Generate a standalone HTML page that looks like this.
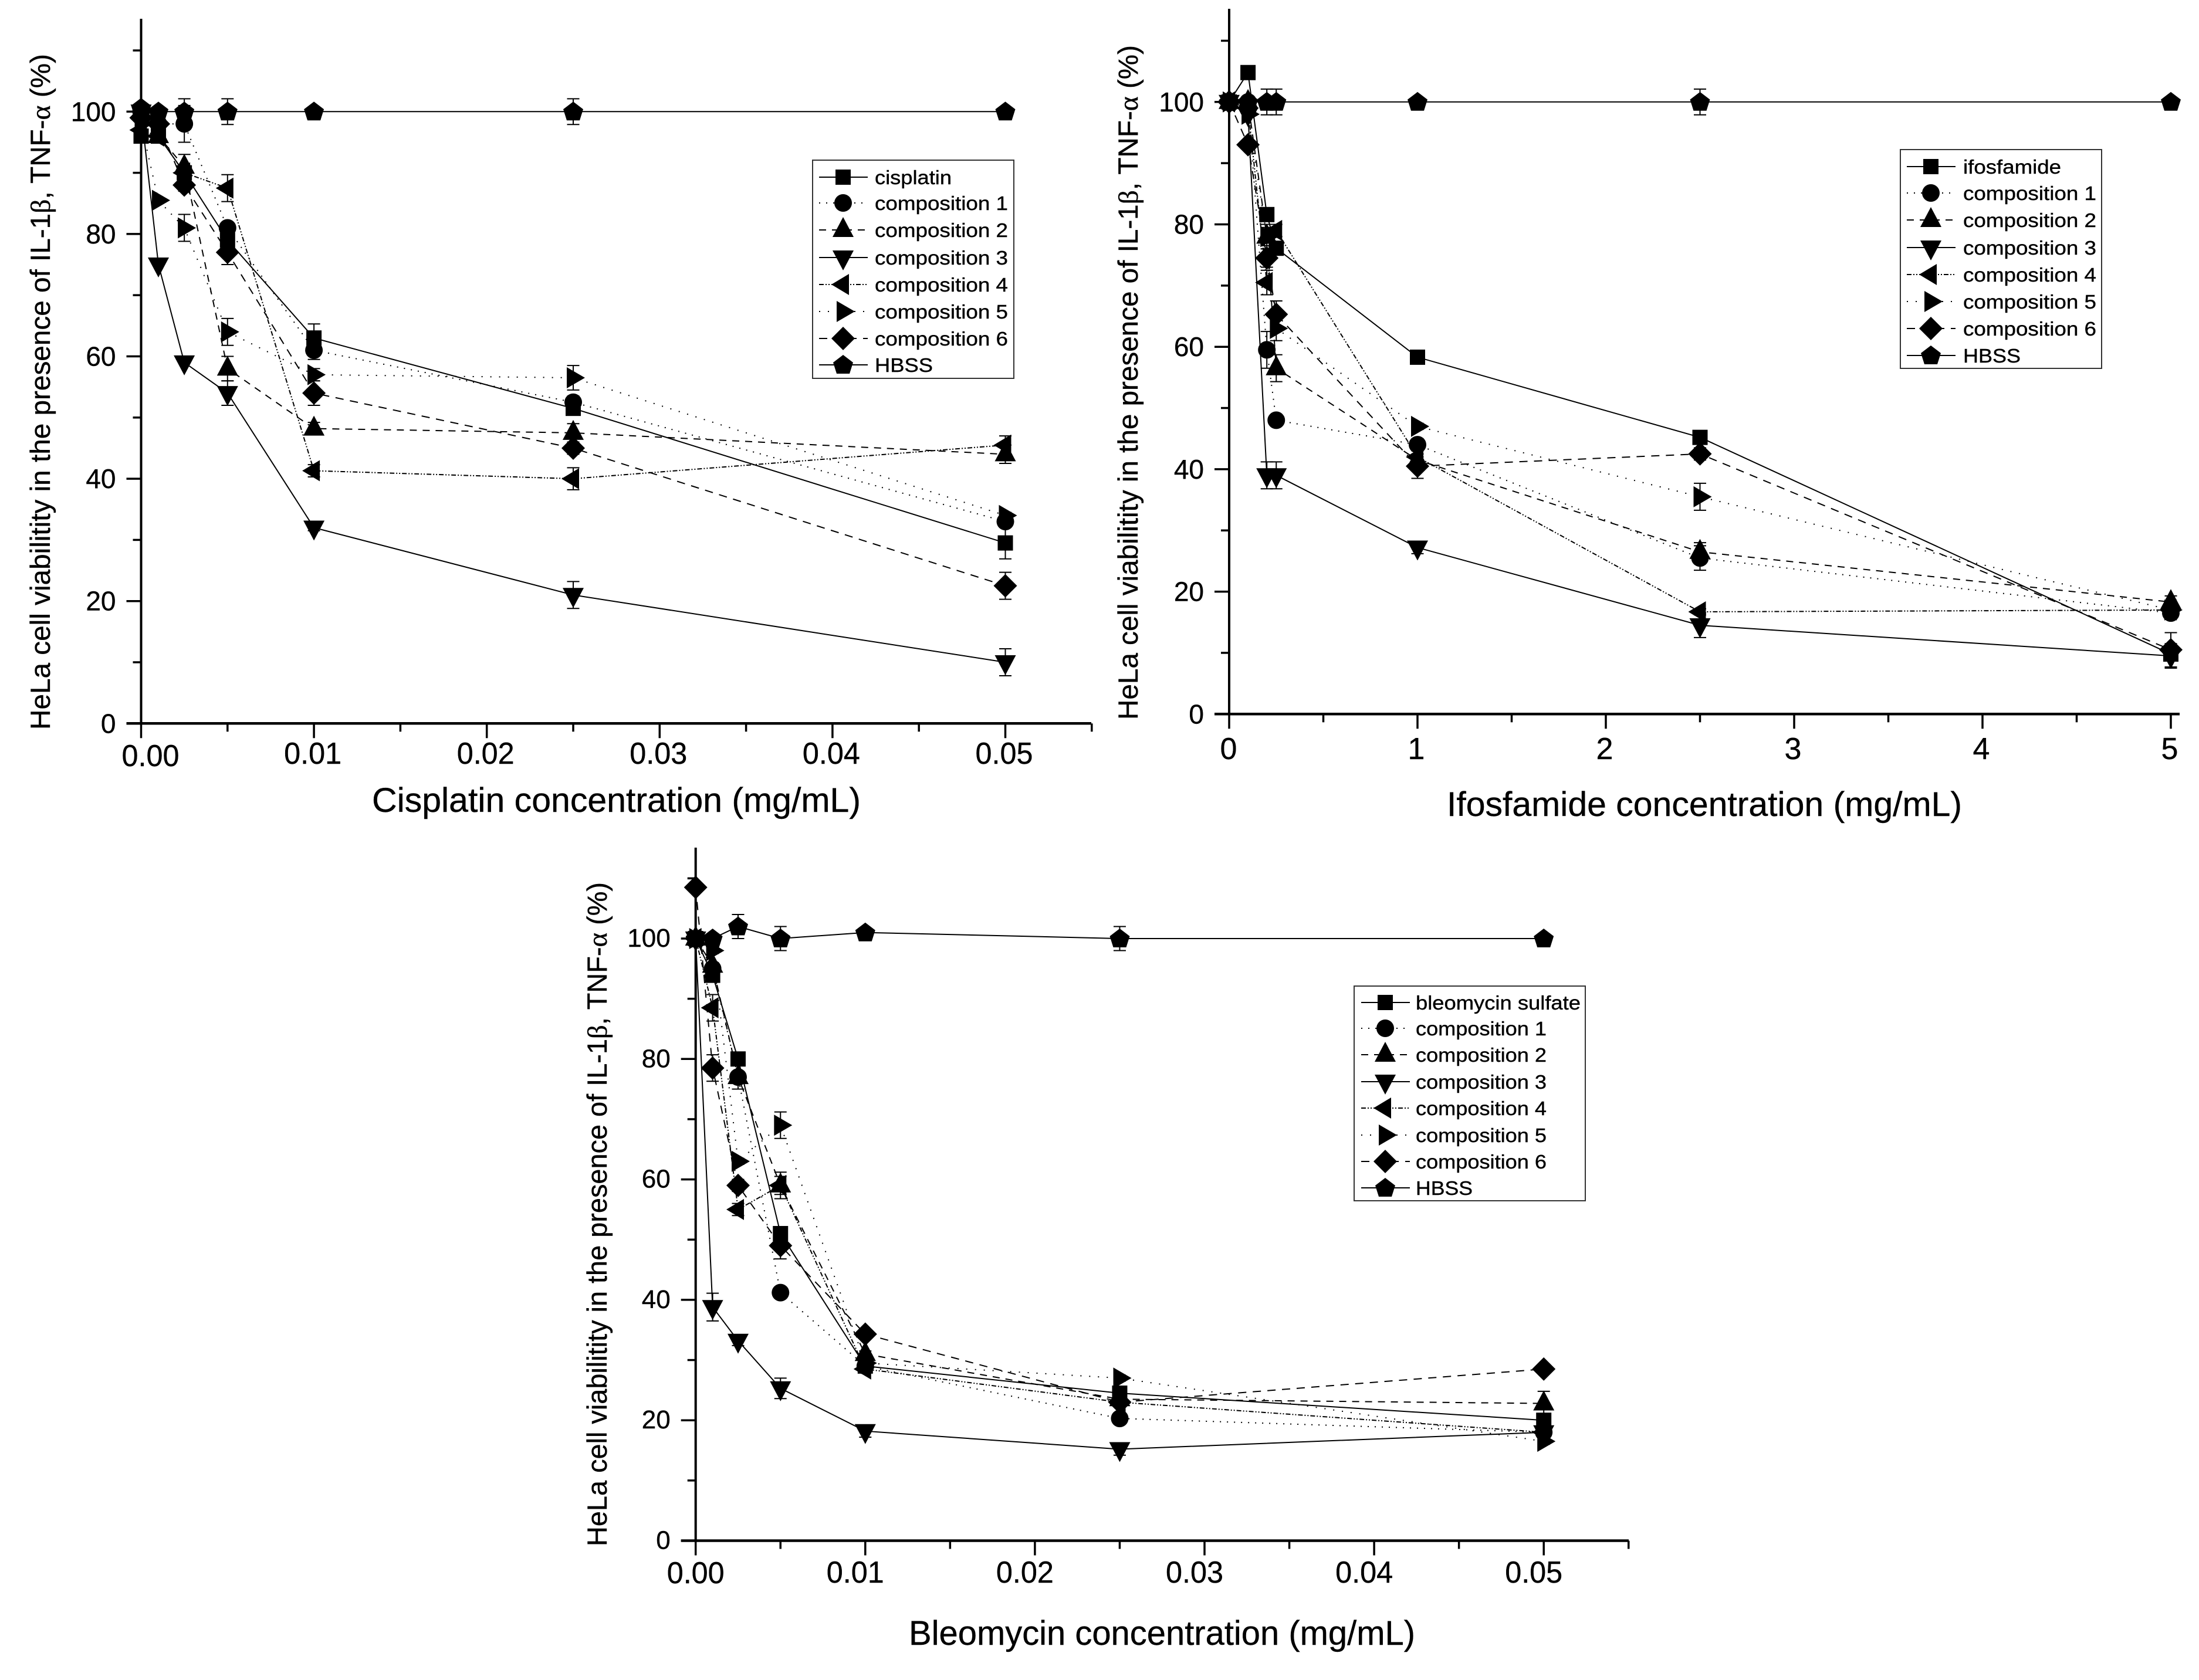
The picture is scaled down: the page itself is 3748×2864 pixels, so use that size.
<!DOCTYPE html>
<html lang="en">
<head>
<meta charset="utf-8">
<title>HeLa cell viability charts</title>
<style>
html,body{margin:0;padding:0;background:#fff;}
svg{display:block;}
text{font-family:"Liberation Sans",sans-serif;fill:#000;stroke:#000;stroke-width:0.4;}
.greek{font-family:"Liberation Serif",serif;}
</style>
</head>
<body>
<svg id="figure" xmlns="http://www.w3.org/2000/svg" width="3748" height="2864" viewBox="0 0 3748 2864">
  <rect x="0" y="0" width="3748" height="2864" fill="#fff"/>

  <text transform="translate(85,1244) rotate(-90)" font-size="47" textLength="1152" lengthAdjust="spacingAndGlyphs">HeLa cell viabilitity in the presence of IL-1<tspan class="greek">β</tspan>, TNF-<tspan class="greek">α</tspan> (%)</text>
  <text x="634" y="1384" font-size="58" textLength="833" lengthAdjust="spacingAndGlyphs">Cisplatin concentration (mg/mL)</text>

  <text transform="translate(1939,1227) rotate(-90)" font-size="47" textLength="1150" lengthAdjust="spacingAndGlyphs">HeLa cell viabilitity in the presence of IL-1<tspan class="greek">β</tspan>, TNF-<tspan class="greek">α</tspan> (%)</text>
  <text x="2466" y="1391" font-size="58" textLength="878" lengthAdjust="spacingAndGlyphs">Ifosfamide concentration (mg/mL)</text>

  <text transform="translate(1034,2636) rotate(-90)" font-size="47" textLength="1132" lengthAdjust="spacingAndGlyphs">HeLa cell viabilitity in the presence of IL-1<tspan class="greek">β</tspan>, TNF-<tspan class="greek">α</tspan> (%)</text>
  <text x="1549" y="2804" font-size="58" textLength="863" lengthAdjust="spacingAndGlyphs">Bleomycin concentration (mg/mL)</text>
</svg>

<script>
// ---------- shared tick labels and legend names ----------
const yTickLabels = [0, 20, 40, 60, 80, 100];
const yMinorTicks = [10, 30, 50, 70, 90, 110];
const concTickValues = [0, 0.01, 0.02, 0.03, 0.04, 0.05];
const concTickLabels = ['0.00', '0.01', '0.02', '0.03', '0.04', '0.05'];
const concMinorTicks = [0.005, 0.015, 0.025, 0.035, 0.045, 0.055];
const ifoTickValues = [0, 1, 2, 3, 4, 5];
const ifoTickLabels = ['0', '1', '2', '3', '4', '5'];
const ifoMinorTicks = [0.5, 1.5, 2.5, 3.5, 4.5];
const compositionNames = ['composition 1', 'composition 2', 'composition 3', 'composition 4', 'composition 5', 'composition 6'];

// ---------- cisplatin chart data ----------
const cisDoses = [0, 0.001, 0.0025, 0.005, 0.01, 0.025, 0.05];
const cisDrug = [96, 96, 90, 79, 63, 51.5, 29.5];
const cisComp1 = [100, 98, 98, 81, 61, 52.5, 33];
const cisComp2 = [100, 96, 91, 58, 48.2, 47.5, 44];
const cisComp3 = [100, 75, 59, 54, 32, 21, 10];
const cisComp4 = [97, 96, 90, 87.5, 41.3, 40, 45.5];
const cisComp5 = [98, 85.5, 81, 64, 57, 56.5, 34];
const cisComp6 = [99, 98, 88, 77, 54, 45, 22.5];
const cisHbss = [100.6, 100, 100, 100, 100, 100, 100];
const cisErrDrug = [0, 0, 0, 1, 2.3, 1, 2.6];
const cisErrComp1 = [0, 0, 3, 0.5, 1.5, 1, 0.5];
const cisErrComp2 = [0, 0, 2, 2, 1, 1.5, 1.5];
const cisErrComp3 = [0, 0, 0, 2, 0.5, 2.2, 2.2];
const cisErrComp4 = [0, 0, 0.5, 2.2, 1, 1.8, 1.5];
const cisErrComp5 = [0, 0, 2.2, 2.2, 1, 2, 0.5];
const cisErrComp6 = [0, 0, 1, 2, 2, 1, 2.2];
const cisErrHbss = [0, 0, 2.1, 2.1, 0, 2.1, 0];

// ---------- ifosfamide chart data ----------
const ifoDoses = [0, 0.1, 0.2, 0.25, 1, 2.5, 5];
const ifoDrug = [100, 104.8, 81.6, 76.1, 58.3, 45.2, 9.8];
const ifoComp1 = [100, 100, 59.5, 48, 44, 25.5, 16.5];
const ifoComp2 = [100, 100, 78, 56.5, 41.5, 26.5, 18.3];
const ifoComp3 = [100, 98, 39, 39, 27.2, 14.5, 9.5];
const ifoComp4 = [100, 99, 70.5, 79, 42, 16.7, 17];
const ifoComp5 = [100, 98, 78, 63, 47, 35.5, 17];
const ifoComp6 = [100, 93, 74.5, 65.3, 40.5, 42.5, 10.5];
const ifoHbss = [100, 100, 100, 100, 100, 100, 100];
const ifoErrDrug = [0, 0, 0, 0.5, 0, 0, 0];
const ifoErrComp1 = [0, 0, 3, 0.5, 1, 2, 1];
const ifoErrComp2 = [0, 0, 2, 2.2, 0.5, 1.5, 1];
const ifoErrComp3 = [0, 0, 2.2, 2.2, 1, 2, 2];
const ifoErrComp4 = [0, 0, 2, 1, 0.5, 0.5, 0.5];
const ifoErrComp5 = [0, 0, 1.5, 2, 0.5, 2.2, 0.5];
const ifoErrComp6 = [0, 0.5, 1.5, 2.2, 2, 1, 2.8];
const ifoErrHbss = [0, 0, 2.1, 2.1, 0, 2.1, 0];

// ---------- bleomycin chart data ----------
const bleDoses = [0, 0.001, 0.0025, 0.005, 0.01, 0.025, 0.05];
const bleDrug = [100, 93.9, 80, 51, 29, 24.5, 20];
const bleComp1 = [100, 95, 77, 41.2, 29, 20.3, 18];
const bleComp2 = [100, 95.5, 77, 59, 31, 23.5, 22.8];
const bleComp3 = [100, 38.8, 33.2, 25.3, 18.2, 15.2, 18];
const bleComp4 = [100, 88.5, 55, 59, 28.5, 23, 18];
const bleComp5 = [100, 98, 63, 69, 29.5, 27, 16.5];
const bleComp6 = [108.5, 78.5, 59, 49, 34.3, 23, 28.5];
const bleHbss = [100, 100, 102, 100, 101, 100, 100];
const bleErrDrug = [0, 0.5, 0.5, 1, 0.5, 1, 0.5];
const bleErrComp1 = [0, 0.5, 0.5, 0.5, 0.5, 0.5, 0.5];
const bleErrComp2 = [0, 0.5, 2, 2.2, 0.5, 1, 2];
const bleErrComp3 = [0, 2.3, 0.8, 1.7, 1, 1, 0.5];
const bleErrComp4 = [0, 2.2, 1, 1.5, 0.5, 0.5, 0.5];
const bleErrComp5 = [0, 0.5, 0.5, 2.2, 0.5, 0.5, 0.5];
const bleErrComp6 = [0, 2.2, 1, 2.2, 0.5, 0.5, 0.5];
const bleErrHbss = [0, 0, 2, 2, 0, 2, 0];

// ---------- drawing ----------
const NS = 'http://www.w3.org/2000/svg';
const root = document.getElementById('figure');

function mk(parent, tag, attrs, name) {
  const el = document.createElementNS(NS, tag);
  for (const k in attrs) el.setAttribute(k, attrs[k]);
  
  
  parent.appendChild(el);
  return el;
}

const styles = [
  { key: 'drug', shape: 'square', dash: null },
  { key: 'comp1', shape: 'circle', dash: '2 10' },
  { key: 'comp2', shape: 'up', dash: '12 10' },
  { key: 'comp3', shape: 'down', dash: null },
  { key: 'comp4', shape: 'left', dash: '8 3 2 3 2 3' },
  { key: 'comp5', shape: 'right', dash: '2 13' },
  { key: 'comp6', shape: 'diamond', dash: '14 11' },
  { key: 'hbss', shape: 'pentagon', dash: null }
];

function pts(list) {
  return list.map(function (p) { return p[0].toFixed(1) + ',' + p[1].toFixed(1); }).join(' ');
}

function marker(parent, shape, cx, cy, name) {
  if (shape === 'square') return mk(parent, 'rect', { x: cx - 13, y: cy - 13, width: 26, height: 26, fill: '#000' }, name);
  if (shape === 'circle') return mk(parent, 'circle', { cx: cx, cy: cy, r: 15, fill: '#000' }, name);
  let poly;
  if (shape === 'up') poly = [[cx, cy - 22], [cx + 18, cy + 12], [cx - 18, cy + 12]];
  if (shape === 'down') poly = [[cx - 18, cy - 12], [cx + 18, cy - 12], [cx, cy + 22]];
  if (shape === 'left') poly = [[cx - 20, cy], [cx + 10, cy - 18], [cx + 10, cy + 18]];
  if (shape === 'right') poly = [[cx + 20, cy], [cx - 11, cy - 18], [cx - 11, cy + 18]];
  if (shape === 'diamond') poly = [[cx, cy - 20], [cx + 20, cy], [cx, cy + 20], [cx - 20, cy]];
  if (shape === 'pentagon') poly = [[cx, cy - 17], [cx + 17, cy - 4], [cx + 11, cy + 15], [cx - 11, cy + 15], [cx - 17, cy - 4]];
  return mk(parent, 'polygon', { points: pts(poly), fill: '#000' }, name);
}

function drawChart(c) {
  const g = mk(root, 'g', {}, c.id + '-chart');
  const X = function (v) { return c.x0 + v * c.kx; };
  const Y = function (v) { return c.y0 - v * c.ky; };

  // series lines and error bars
  c.series.forEach(function (vals, s) {
    const st = styles[s];
    const sg = mk(g, 'g', {}, c.id + '-series-' + st.key);
    const line = vals.map(function (v, i) { return [X(c.doses[i]), Y(v)]; });
    const attrs = { points: pts(line), fill: 'none', stroke: '#000', 'stroke-width': 2 };
    if (st.dash) attrs['stroke-dasharray'] = st.dash;
    mk(sg, 'polyline', attrs, c.id + '-line-' + st.key);
    vals.forEach(function (v, i) {
      const e = c.errors[s][i];
      if (e > 0) {
        const x = X(c.doses[i]);
        const top = Y(v + e);
        const bot = Y(v - e);
        const d = 'M' + (x - 10.5) + ' ' + top + 'H' + (x + 10.5) + 'M' + x + ' ' + top + 'V' + bot + 'M' + (x - 10.5) + ' ' + bot + 'H' + (x + 10.5);
        mk(sg, 'path', { d: d, fill: 'none', stroke: '#000', 'stroke-width': 2 }, c.id + '-error-bar-' + st.key);
      }
    });
  });
  // markers on top
  c.series.forEach(function (vals, s) {
    const st = styles[s];
    vals.forEach(function (v, i) {
      marker(g, st.shape, X(c.doses[i]), Y(v), c.id + '-marker-' + st.key);
    });
  });

  // axes
  mk(g, 'line', { x1: c.x0, y1: c.y0 + 2, x2: c.x0, y2: c.top, stroke: '#000', 'stroke-width': 4 }, c.id + '-y-axis');
  mk(g, 'line', { x1: c.x0 - 25, y1: c.y0, x2: c.xEnd, y2: c.y0, stroke: '#000', 'stroke-width': 4.5 }, c.id + '-x-axis');
  yTickLabels.forEach(function (v) {
    mk(g, 'line', { x1: c.x0 - 25, y1: Y(v), x2: c.x0, y2: Y(v), stroke: '#000', 'stroke-width': 3.5 }, c.id + '-y-tick');
    const t = mk(g, 'text', { x: c.x0 - 43, y: Y(v) + c.yLabelDy, 'font-size': c.yLabelSize, 'text-anchor': 'end' }, c.id + '-y-tick-label');
    t.textContent = String(v);
  });
  yMinorTicks.forEach(function (v) {
    mk(g, 'line', { x1: c.x0 - 14, y1: Y(v), x2: c.x0, y2: Y(v), stroke: '#000', 'stroke-width': 3.5 }, c.id + '-y-minor-tick');
  });
  c.xTicks.forEach(function (v, i) {
    mk(g, 'line', { x1: X(v), y1: c.y0, x2: X(v), y2: c.y0 + 25, stroke: '#000', 'stroke-width': 3.5 }, c.id + '-x-tick');
    const off = i === 0 ? c.firstLabelDx : c.labelDx;
    const attrs = { x: X(v) + off, y: c.xLabelY + (i === 0 ? c.firstLabelDy : 0), 'font-size': 52, 'text-anchor': 'middle' };
    if (c.xLabels[i].length > 1) {
      attrs.textLength = 98;
      attrs.lengthAdjust = 'spacingAndGlyphs';
    }
    const t = mk(g, 'text', attrs, c.id + '-x-tick-label');
    t.textContent = c.xLabels[i];
  });
  c.xMinor.forEach(function (v) {
    mk(g, 'line', { x1: X(v), y1: c.y0, x2: X(v), y2: c.y0 + 14, stroke: '#000', 'stroke-width': 3.5 }, c.id + '-x-minor-tick');
  });

  // legend
  const L = c.legend;
  const lg = mk(g, 'g', {}, c.id + '-legend');
  mk(lg, 'rect', { x: L.x, y: L.y, width: L.w, height: L.h, fill: '#fff', stroke: '#333', 'stroke-width': 2 }, c.id + '-legend-box');
  const labels = [L.first].concat(compositionNames, ['HBSS']);
  labels.forEach(function (label, i) {
    const st = styles[i];
    const ry = L.rows[i];
    const attrs = { x1: L.lineX, y1: ry, x2: L.lineX + 83, y2: ry, stroke: '#000', 'stroke-width': 2 };
    if (st.dash) attrs['stroke-dasharray'] = st.dash;
    mk(lg, 'line', attrs, c.id + '-legend-line-' + st.key);
    marker(lg, st.shape, L.lineX + 41, ry, c.id + '-legend-marker-' + st.key);
    const w = i === 0 ? L.firstW : (i === 7 ? L.hbssW : L.compW);
    const t = mk(lg, 'text', { x: L.textX, y: ry + 12, 'font-size': 33, textLength: w, lengthAdjust: 'spacingAndGlyphs' }, c.id + '-legend-label-' + st.key);
    t.textContent = label;
  });
}

drawChart({
  id: 'cisplatin', x0: 240.5, kx: 29460, y0: 1233.3, ky: 10.43, top: 32, xEnd: 1860,
  doses: cisDoses,
  series: [cisDrug, cisComp1, cisComp2, cisComp3, cisComp4, cisComp5, cisComp6, cisHbss],
  errors: [cisErrDrug, cisErrComp1, cisErrComp2, cisErrComp3, cisErrComp4, cisErrComp5, cisErrComp6, cisErrHbss],
  xTicks: concTickValues, xLabels: concTickLabels, xMinor: concMinorTicks,
  xLabelY: 1302, firstLabelDx: 16, firstLabelDy: 4, labelDx: -2, yLabelSize: 46, yLabelDy: 16,
  legend: { x: 1385, y: 273, w: 343, h: 372, lineX: 1396, textX: 1491, first: 'cisplatin', firstW: 131, compW: 227, hbssW: 99,
    rows: [302, 346, 392, 439, 485, 531, 577, 622] }
});

drawChart({
  id: 'ifosfamide', x0: 2095, kx: 321, y0: 1217.3, ky: 10.435, top: 15, xEnd: 3715,
  doses: ifoDoses,
  series: [ifoDrug, ifoComp1, ifoComp2, ifoComp3, ifoComp4, ifoComp5, ifoComp6, ifoHbss],
  errors: [ifoErrDrug, ifoErrComp1, ifoErrComp2, ifoErrComp3, ifoErrComp4, ifoErrComp5, ifoErrComp6, ifoErrHbss],
  xTicks: ifoTickValues, xLabels: ifoTickLabels, xMinor: ifoMinorTicks,
  xLabelY: 1294, firstLabelDx: -1, firstLabelDy: 0, labelDx: -2, yLabelSize: 46, yLabelDy: 16,
  legend: { x: 3239, y: 255, w: 343, h: 373, lineX: 3250, textX: 3346, first: 'ifosfamide', firstW: 167, compW: 227, hbssW: 98,
    rows: [284, 329, 375, 422, 468, 514, 560, 606] }
});

drawChart({
  id: 'bleomycin', x0: 1185.7, kx: 28910, y0: 2626.5, ky: 10.265, top: 1445, xEnd: 2776,
  doses: bleDoses,
  series: [bleDrug, bleComp1, bleComp2, bleComp3, bleComp4, bleComp5, bleComp6, bleHbss],
  errors: [bleErrDrug, bleErrComp1, bleErrComp2, bleErrComp3, bleErrComp4, bleErrComp5, bleErrComp6, bleErrHbss],
  xTicks: concTickValues, xLabels: concTickLabels, xMinor: concMinorTicks,
  xLabelY: 2698, firstLabelDx: 0, firstLabelDy: 1, labelDx: -17, yLabelSize: 44, yLabelDy: 14,
  legend: { x: 2308, y: 1681, w: 394, h: 366, lineX: 2320, textX: 2413, first: 'bleomycin sulfate', firstW: 281, compW: 223, hbssW: 97,
    rows: [1709, 1753, 1798, 1844, 1889, 1935, 1980, 2025] }
});
</script>
</body>
</html>
